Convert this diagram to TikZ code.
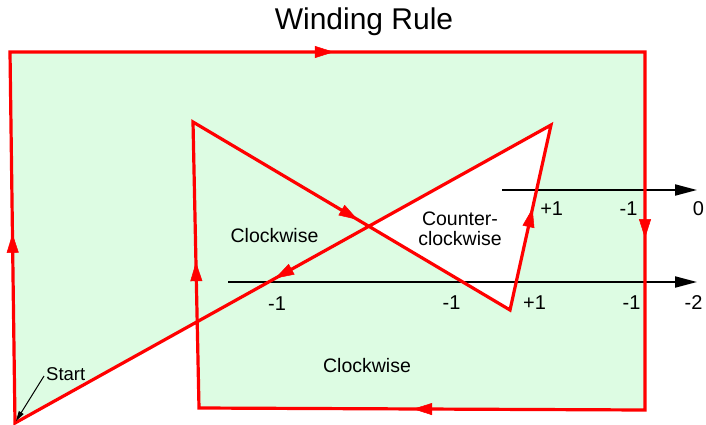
\documentclass[tikz,border=0pt]{standalone}
\usepackage{fontspec}
\setmainfont{Liberation Sans}
\usetikzlibrary{arrows.meta,decorations.markings}
\definecolor{fillgreen}{RGB}{221,252,227}
\begin{document}
\begin{tikzpicture}[x=1pt,y=-1pt,
  redpath/.style={draw=red,line width=3.2pt,line join=miter},
  midarrow/.style={postaction={decorate},decoration={markings,
     mark=at position #1 with {\arrow[red,line width=0.5pt]{Triangle[length=19pt,width=12pt]}}}},
  blackray/.style={draw=black,line width=2pt,-{Triangle[length=22pt,width=11pt]}},
  lbl/.style={font=\fontsize{19.5}{20}\selectfont,anchor=base,inner sep=0pt},
  num/.style={font=\fontsize{20}{20}\selectfont,anchor=base,inner sep=0pt}]
\useasboundingbox (0,0) rectangle (706,425);
\coordinate (S) at (15,423);
\coordinate (A) at (10,52);
\coordinate (B) at (645,52);
\coordinate (C) at (645,410);
\coordinate (D) at (199,408);
\coordinate (E) at (193,122);
\coordinate (F) at (510,310);
\coordinate (G) at (551,125);
% fill (nonzero)
\fill[fillgreen] (S) -- (A) -- (B) -- (C) -- (D) -- (E) -- (F) -- (G) -- cycle;
% rays
\coordinate (r0a) at (502,190);
\coordinate (r0b) at (697,190);
\coordinate (r2a) at (228,282);
\coordinate (r2b) at (697,282);
\draw[blackray] (r0a) -- (r0b);
\draw[blackray] (r2a) -- (r2b);
% outline
\draw[redpath] (S) -- (A) -- (B) -- (C) -- (D) -- (E) -- (F) -- (G) -- cycle;
\path[midarrow=0.51] (S) -- (A);
\path[midarrow=0.51] (A) -- (B);
\path[midarrow=0.52] (B) -- (C);
\path[midarrow=0.52] (C) -- (D);
\path[midarrow=0.51] (D) -- (E);
\path[midarrow=0.52] (E) -- (F);
\path[midarrow=0.55] (F) -- (G);
\path[midarrow=0.515] (G) -- (S);
% texts
\node[anchor=base,inner sep=0pt,font=\fontsize{30}{30}\selectfont] (title) at (364,30) {Winding Rule};
\node[lbl] (cw1) at (274.5,242) {Clockwise};
\node[lbl] (cw2) at (367,372) {Clockwise};
\node[lbl,align=center] (ccw) at (460,245.5) {Counter-\\clockwise};
\node[num] (n1) at (551.7,215) {+1};
\node[num] (n2) at (628.5,215) {-1};
\node[num] (n3) at (698.5,215) {0};
\node[num] (m0) at (277,310) {-1};
\node[num] (m1) at (451.5,309) {-1};
\node[num] (m2) at (534.5,309) {+1};
\node[num] (m3) at (631.5,309) {-1};
\node[num] (m4) at (693.5,309) {-2};
\node[font=\fontsize{18.5}{18.5}\selectfont,anchor=base west,inner sep=0pt] (start) at (46,380) {Start};
\coordinate (starttail) at (44,376);
\draw[black,line width=1pt,-{Triangle[length=10pt,width=5.5pt]}] (starttail) -- (16,421);
\end{tikzpicture}
\end{document}
